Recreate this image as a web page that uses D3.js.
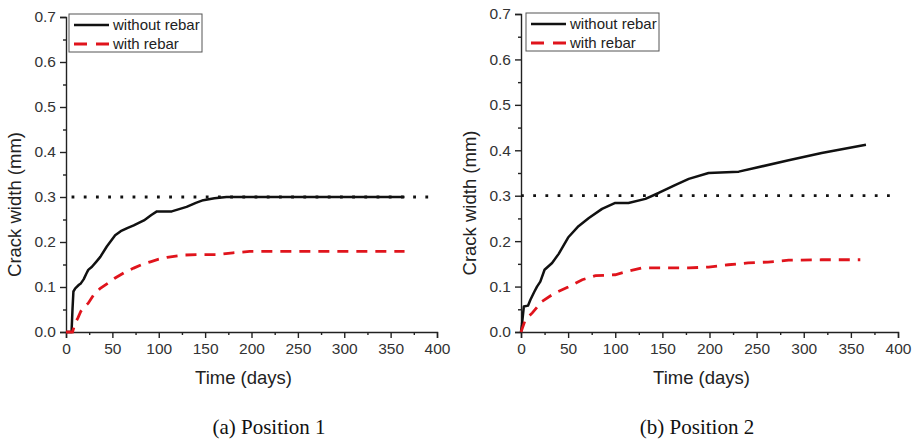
<!DOCTYPE html>
<html>
<head>
<meta charset="utf-8">
<script src="https://cdn.jsdelivr.net/npm/d3@7"></script>
<style>
  body { margin: 0; background: #fff; }
  svg { display: block; font-family: "Liberation Sans", Arial, sans-serif; }
</style>
</head>
<body>
<svg id="drawing_region"></svg>
<script>
// tick values
const xTicks = [0, 50, 100, 150, 200, 250, 300, 350, 400];
const yTicks = [0, 0.1, 0.2, 0.3, 0.4, 0.5, 0.6, 0.7];
const seriesNames = ["without rebar", "with rebar"];
const captions = ["(a) Position 1", "(b) Position 2"];
const limitWidth = 0.3;

// Position 1, [day, crack width mm]
const p1Without = [
  [0, 0], [6, 0], [7, 0.05], [8, 0.09], [10, 0.097], [14, 0.105], [16, 0.108],
  [19, 0.117], [22, 0.13], [24, 0.138], [28, 0.145], [33, 0.157], [37, 0.167],
  [44, 0.19], [53, 0.215], [59, 0.224], [66, 0.231], [73, 0.237], [84, 0.248],
  [92, 0.26], [98, 0.268], [114, 0.268], [122, 0.273], [130, 0.278], [140, 0.287],
  [148, 0.293], [160, 0.297], [173, 0.3], [250, 0.3], [300, 0.3], [365, 0.3]
];
const p1With = [
  [0, 0], [7, 0], [10, 0.02], [13, 0.032], [16, 0.046], [20, 0.056], [24, 0.064],
  [30, 0.083], [37, 0.097], [45, 0.108], [53, 0.12], [63, 0.132], [73, 0.142],
  [82, 0.15], [91, 0.156], [100, 0.162], [109, 0.166], [126, 0.171], [145, 0.172],
  [162, 0.172], [180, 0.176], [198, 0.179], [250, 0.179], [300, 0.179], [365, 0.179]
];

// Position 2
const p2Without = [
  [0, 0], [1, 0.016], [3, 0.056], [7.4, 0.058], [10, 0.071], [14, 0.088], [17, 0.1],
  [20.5, 0.111], [25, 0.137], [33, 0.152], [40, 0.172], [50, 0.208], [61, 0.233],
  [72, 0.251], [86, 0.271], [100, 0.284], [114, 0.284], [132, 0.293], [146, 0.306],
  [164, 0.324], [178, 0.337], [199, 0.35], [231, 0.353], [248, 0.361], [284, 0.378],
  [319, 0.394], [366, 0.412]
];
const p2With = [
  [0, 0], [4.6, 0.027], [12, 0.042], [22, 0.067], [36, 0.086], [50, 0.099],
  [65, 0.115], [79, 0.124], [100, 0.126], [114, 0.134], [128, 0.141], [157, 0.141],
  [178, 0.141], [199, 0.143], [220, 0.148], [241, 0.152], [262, 0.154], [284, 0.158],
  [319, 0.159], [360, 0.159]
];

// where the dotted 0.3 mm line runs (days)
const p1LimitDays = [6, 400];
const p2LimitDays = [0, 400];

class CrackChart {
  constructor(config, without, withRebar, limitDays, caption) {
    this.config = config;
    this.without = without;
    this.withRebar = withRebar;
    this.limitDays = limitDays;
    this.caption = caption;
    this.init();
  }

  init() {
    let self = this;
    const c = self.config;
    self.chart = d3.select("#drawing_region").append("g")
      .attr("transform", `translate(${c.left}, ${c.top})`);

    self.xscale = d3.scaleLinear().domain([0, 400]).range([0, c.width]);
    self.yscale = d3.scaleLinear().domain([0, 0.7]).range([c.height, 0]);
  }

  render() {
    let self = this;
    const c = self.config;
    const axisColor = "#222";

    // minor ticks
    const xMinor = d3.axisBottom(self.xscale)
      .tickValues(d3.range(25, 400, 50)).tickSize(3).tickFormat("");
    const yMinor = d3.axisLeft(self.yscale)
      .tickValues(d3.range(0.05, 0.7, 0.1)).tickSize(3).tickFormat("");

    const xaxis = d3.axisBottom(self.xscale).tickValues(xTicks).tickSize(6).tickPadding(5);
    const yaxis = d3.axisLeft(self.yscale).tickValues(yTicks).tickSize(6).tickPadding(4)
      .tickFormat(d3.format(".1f"));

    self.chart.append("g")
      .attr("transform", `translate(0, ${c.height})`)
      .call(xaxis);
    self.chart.append("g")
      .attr("transform", `translate(0, ${c.height})`)
      .call(xMinor).select(".domain").remove();
    self.chart.append("g").call(yaxis);
    self.chart.append("g").call(yMinor).select(".domain").remove();

    self.chart.selectAll(".domain, .tick line")
      .attr("stroke", axisColor).attr("stroke-width", 1.4);
    self.chart.selectAll(".tick text")
      .attr("fill", "#333").attr("font-size", "15.5px")
      .attr("font-family", "Liberation Sans, Arial, sans-serif");

    // 0.3 mm limit
    self.chart.append("line")
      .attr("x1", self.xscale(self.limitDays[0]))
      .attr("x2", self.xscale(self.limitDays[1]))
      .attr("y1", self.yscale(limitWidth))
      .attr("y2", self.yscale(limitWidth))
      .attr("stroke", "#111")
      .attr("stroke-width", 2.8)
      .attr("stroke-dasharray", "2.8,9.4");

    const line = d3.line()
      .x((d) => self.xscale(d[0]))
      .y((d) => self.yscale(d[1]));

    self.chart.append("path")
      .datum(self.without)
      .attr("d", line)
      .attr("fill", "none")
      .attr("stroke", "#111")
      .attr("stroke-width", 2.5)
      .attr("stroke-linejoin", "round");

    self.chart.append("path")
      .datum(self.withRebar)
      .attr("d", line)
      .attr("fill", "none")
      .attr("stroke", "#e0141c")
      .attr("stroke-width", 2.8)
      .attr("stroke-dasharray", "11,8");

    // legend
    const lg = self.chart.append("g")
      .attr("transform", `translate(${c.legendX}, ${c.legendY})`);
    lg.append("rect")
      .attr("width", 133).attr("height", 38)
      .attr("fill", "#fff").attr("stroke", "#555").attr("stroke-width", 1);
    seriesNames.forEach((name, i) => {
      const y = 11 + i * 19;
      lg.append("line")
        .attr("x1", 5).attr("x2", 40).attr("y1", y).attr("y2", y)
        .attr("stroke", i === 0 ? "#111" : "#e0141c")
        .attr("stroke-width", i === 0 ? 2.5 : 2.8)
        .attr("stroke-dasharray", i === 0 ? null : "13,9");
      lg.append("text")
        .attr("x", 44).attr("y", y)
        .attr("dy", "0.35em")
        .attr("font-size", "15px")
        .attr("fill", "#222")
        .text(name);
    });

    // axis titles
    self.chart.append("text")
      .attr("x", c.width / 2 - 8)
      .attr("y", c.height + 46)
      .attr("dy", "0.35em")
      .attr("text-anchor", "middle")
      .attr("font-size", "18.5px")
      .attr("fill", "#222")
      .text("Time (days)");

    self.chart.append("text")
      .attr("transform", `translate(${c.yTitleX}, ${c.height / 2 + 30}) rotate(-90)`)
      .attr("dy", "0.35em")
      .attr("text-anchor", "middle")
      .attr("font-size", "18.5px")
      .attr("fill", "#222")
      .text("Crack width (mm)");

    // caption
    self.chart.append("text")
      .attr("x", c.captionX - c.left)
      .attr("y", 434 - c.top)
      .attr("text-anchor", "middle")
      .attr("font-family", "Liberation Serif, Times New Roman, serif")
      .attr("font-size", "21px")
      .attr("fill", "#111")
      .text(self.caption);
  }
}

d3.select("#drawing_region").attr("width", 914).attr("height", 444);

const chartA = new CrackChart(
  { left: 66, top: 17, width: 371, height: 315, legendX: 3, legendY: -3, yTitleX: -51, captionX: 269 },
  p1Without, p1With, p1LimitDays, captions[0]
);
chartA.render();

const chartB = new CrackChart(
  { left: 521, top: 14, width: 377, height: 318, legendX: 5, legendY: -1, yTitleX: -51, captionX: 697 },
  p2Without, p2With, p2LimitDays, captions[1]
);
chartB.render();
</script>
</body>
</html>
